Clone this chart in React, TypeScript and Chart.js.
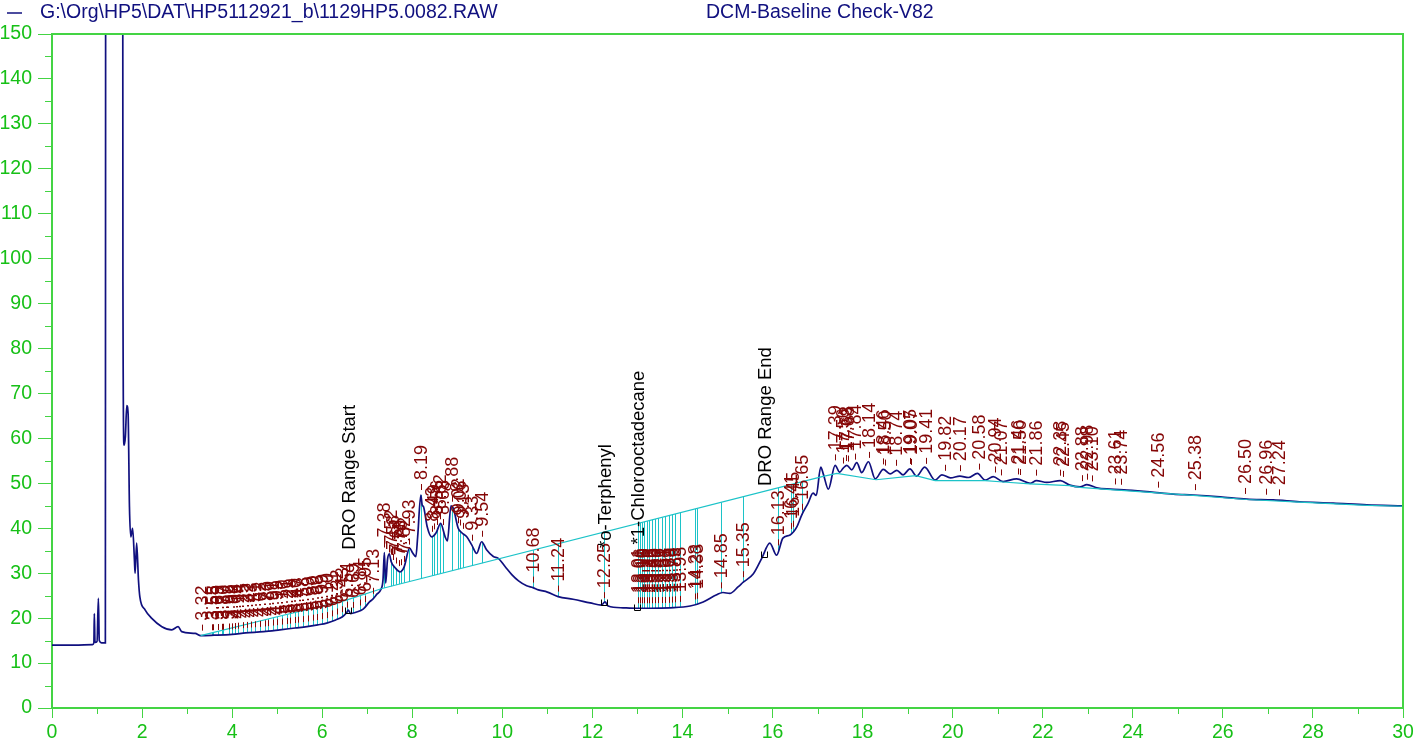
import React, { useEffect, useRef } from 'react';
import { Chart, registerables } from 'chart.js';

Chart.register(...registerables);

// ---- chromatogram signal (retention time in minutes, response) ----
const signalTimes = [
  0, 0.5, 0.9, 0.93, 0.94, 0.955, 1.0, 1.03, 1.05, 1.1, 1.185, 1.2, 1.38, 1.56, 1.575, 1.6,
  1.63, 1.66, 1.69, 1.72, 1.75, 1.79, 1.83, 1.845, 1.88, 1.92, 1.95, 2.07, 2.21, 2.44, 2.66,
  2.8, 2.88, 3.18, 3.3, 3.6, 4.0, 4.3, 4.7, 5.06, 5.4, 5.66, 5.9, 6.1, 6.3, 6.45, 6.54, 6.58,
  6.63, 6.75, 6.91, 7.05, 7.13, 7.22, 7.3, 7.35, 7.38, 7.41, 7.45, 7.49, 7.53, 7.62, 7.73,
  7.82, 7.94, 8.01, 8.08, 8.12, 8.19, 8.22, 8.25, 8.33, 8.43, 8.53, 8.63, 8.73, 8.78, 8.86,
  8.91, 9.02, 9.1, 9.21, 9.32, 9.43, 9.54, 9.65, 9.8, 9.91, 10.06, 10.21, 10.36, 10.54, 10.68,
  10.8, 11.0, 11.24, 11.57, 11.95, 12.2, 12.28, 12.35, 12.68, 13.0, 13.3, 13.72, 14.17, 14.46,
  14.76, 14.9, 15.05, 15.24, 15.35, 15.57, 15.76, 15.94, 16.09, 16.23, 16.39, 16.54, 16.65,
  16.79, 16.9, 16.97, 17.07, 17.13, 17.24, 17.39, 17.49, 17.57, 17.65, 17.76, 17.87, 17.98,
  18.13, 18.28, 18.46, 18.61, 18.76, 18.9, 19.05, 19.2, 19.38, 19.61, 19.76, 19.95, 20.16,
  20.35, 20.55, 20.72, 20.9, 21.12, 21.42, 21.72, 21.86, 22.09, 22.39, 22.6, 22.83, 22.98,
  23.2, 23.5, 23.87, 24.38, 24.9, 25.34, 25.94, 26.53, 27.12, 27.7, 28.45, 29.2, 30.0,
];
const signalValues = [
  14.0, 14.0, 14.1, 14.5, 21.0, 14.6, 14.8, 24.4, 15.0, 14.5, 14.5, 400, 1200, 400, 95, 58.5,
  60.5, 67.3, 65.5, 44.8, 38.1, 40.0, 33.0, 30.0, 36.7, 28.5, 24.8, 21.8, 20.0, 18.1, 17.4,
  18.1, 17.0, 16.6, 16.1, 16.2, 16.4, 16.7, 17.0, 17.4, 17.8, 18.1, 18.5, 18.9, 19.6, 20.3,
  21.2, 21.8, 21.0, 21.3, 22.0, 23.6, 24.3, 25.4, 26.3, 28.5, 34.6, 27.8, 33.0, 34.3, 32.6,
  31.2, 30.3, 31.4, 35.6, 34.5, 33.7, 38.1, 47.4, 45.2, 44.8, 40.4, 38.1, 39.0, 41.1, 38.1,
  37.2, 45.0, 44.5, 40.0, 39.0, 38.1, 36.3, 34.4, 37.0, 35.2, 33.7, 33.3, 31.5, 29.7, 28.3,
  27.2, 26.8, 26.3, 25.8, 24.8, 24.2, 23.4, 22.9, 23.6, 22.7, 22.3, 22.2, 22.2, 22.3, 22.7,
  23.6, 25.2, 25.7, 25.5, 27.0, 28.0, 29.8, 33.3, 36.7, 34.0, 37.8, 38.5, 40.3, 43.0, 45.6,
  47.8, 47.3, 53.6, 52.0, 48.7, 54.0, 52.5, 53.4, 54.0, 53.0, 54.6, 52.4, 54.8, 51.0, 53.1,
  52.1, 52.9, 51.9, 53.2, 51.6, 53.6, 50.7, 51.9, 51.2, 51.6, 51.3, 52.2, 50.7, 51.5, 50.4,
  51.0, 50.0, 50.6, 50.2, 50.6, 49.6, 49.2, 49.7, 49.0, 48.7, 48.5, 48.1, 47.6, 47.4, 47.0,
  46.5, 46.3, 45.9, 45.6, 45.2, 45.0,
];

// ---- integration baseline ----
const baselineTimes = [
  3.3, 5.0, 6.5, 7.33, 17.1, 17.43, 18.3, 19.18, 19.61, 20.72, 21.12, 21.72, 22.6, 22.83,
  23.5, 24.38, 25.34, 26.53, 27.7, 29.2, 30.0,
];
const baselineValues = [
  16.1, 20.3, 23.9, 26.6, 51.5, 52.2, 50.8, 51.7, 50.6, 50.6, 50.3, 49.9, 49.5, 49.1, 48.6,
  48.0, 47.3, 46.4, 45.8, 45.1, 44.9,
];

// ---- integrated peaks (retention times, also used as labels) ----
const peakTimes = [
  3.32, 3.55, 3.58, 3.69, 3.77, 3.8, 3.92, 3.99, 4.06, 4.14, 4.25, 4.32, 4.43, 4.51, 4.62,
  4.73, 4.8, 4.91, 4.99, 5.1, 5.21, 5.29, 5.4, 5.47, 5.58, 5.69, 5.8, 5.88, 5.99, 6.1, 6.21,
  6.32, 6.43, 6.54, 6.69, 6.84, 6.95, 7.13,
  7.38, 7.52, 7.58, 7.64, 7.71, 7.76, 7.82, 7.93, 8.19, 8.43, 8.49, 8.56, 8.62, 8.68, 8.88,
  9.02, 9.06, 9.13, 9.33, 9.54,
  10.68, 11.24, 12.25, 13.01, 13.06, 13.1, 13.15, 13.21, 13.26, 13.33, 13.39, 13.46, 13.54,
  13.61, 13.69, 13.76, 13.83, 13.95, 14.28, 14.33, 14.85, 15.35, 16.13, 16.41, 16.45, 16.65,
  17.39, 17.56, 17.63, 17.68, 17.84, 18.14, 18.46, 18.5, 18.74, 19.05, 19.07, 19.41, 19.82,
  20.17, 20.58, 20.94, 21.07, 21.46, 21.5, 21.86, 22.38, 22.45, 22.88, 22.98, 23.1, 23.61,
  23.74, 24.56, 25.38, 26.5, 26.96, 27.24,
];
const integrationEnd = 17.1;

// ---- named compounds / range markers ----
const compoundNames = ['DRO Range Start', '*o-Terphenyl', '*1-Chlorooctadecane', 'DRO Range End'];
const compoundTimes = [6.57, 12.25, 13.0, 15.8];
const compoundLabelLevels = [35.2, 35.6, 36.4, 49.4];

// ---- axes ----
const xMinorTicks = [1, 3, 5, 7, 9, 11, 13, 15, 17, 19, 21, 23, 25, 27, 29];
const yMinorTicks = [5, 15, 25, 35, 45, 55, 65, 75, 85, 95, 105, 115, 125, 135, 145];
const fileLabel = 'G:\\Org\\HP5\\DAT\\HP5112921_b\\1129HP5.0082.RAW';
const methodLabel = 'DCM-Baseline Check-V82';

const NAVY = '#10107f';
const CYAN = '#1cc3c8';
const RED = '#850606';
const GREEN_LINE = '#44d444';
const GREEN_TEXT = '#17c017';
const FONT = '"Liberation Sans", Arial, Helvetica, sans-serif';

function valueAt(times: number[], values: number[], t: number): number {
  for (let i = 1; i < times.length; i++) {
    if (t <= times[i]) {
      const f = (t - times[i - 1]) / (times[i] - times[i - 1]);
      return values[i - 1] + f * (values[i] - values[i - 1]);
    }
  }
  return values[values.length - 1];
}

const chromPlugin = {
  id: 'chromDecor',
  beforeDatasetsDraw(chart: any) {
    const { ctx, scales } = chart;
    const xs = scales.x;
    const ys = scales.y;
    ctx.save();
    ctx.strokeStyle = CYAN;
    ctx.lineWidth = 1;
    peakTimes.forEach((t) => {
      if (t > integrationEnd || t < baselineTimes[0]) return;
      const px = Math.round(xs.getPixelForValue(t)) + 0.5;
      const yc = ys.getPixelForValue(valueAt(signalTimes, signalValues, t));
      const yb = ys.getPixelForValue(valueAt(baselineTimes, baselineValues, t));
      ctx.beginPath();
      ctx.moveTo(px, yc);
      ctx.lineTo(px, yb);
      ctx.stroke();
    });
    ctx.restore();
  },
  afterDatasetsDraw(chart: any) {
    const { ctx, scales } = chart;
    const xs = scales.x;
    const ys = scales.y;
    ctx.save();
    ctx.font = `18px ${FONT}`;
    ctx.textAlign = 'left';
    ctx.textBaseline = 'middle';
    peakTimes.forEach((t) => {
      const px = Math.round(xs.getPixelForValue(t)) + 0.5;
      const yc = ys.getPixelForValue(valueAt(signalTimes, signalValues, t));
      ctx.strokeStyle = RED;
      ctx.lineWidth = 1;
      ctx.beginPath();
      ctx.moveTo(px, yc - 5);
      ctx.lineTo(px, yc - 11);
      ctx.stroke();
      ctx.save();
      ctx.translate(px + 1, yc - 15);
      ctx.rotate(-Math.PI / 2);
      ctx.fillStyle = RED;
      ctx.fillText(t.toFixed(2), 0, 0);
      ctx.restore();
    });
    ctx.font = `18.5px ${FONT}`;
    compoundNames.forEach((name, i) => {
      const t = compoundTimes[i];
      const px = Math.round(xs.getPixelForValue(t)) + 0.5;
      const yc = Math.round(ys.getPixelForValue(valueAt(signalTimes, signalValues, t))) + 0.5;
      ctx.strokeStyle = '#000';
      ctx.lineWidth = 1;
      ctx.beginPath();
      ctx.moveTo(px - 3, yc - 4);
      ctx.lineTo(px - 3, yc + 2);
      ctx.lineTo(px + 3, yc + 2);
      ctx.lineTo(px + 3, yc - 4);
      ctx.stroke();
      ctx.save();
      ctx.translate(px + 1, ys.getPixelForValue(compoundLabelLevels[i]));
      ctx.rotate(-Math.PI / 2);
      ctx.fillStyle = '#000';
      ctx.fillText(name, 0, 0);
      ctx.restore();
    });
    ctx.restore();
  },
  afterDraw(chart: any) {
    const { ctx, scales, chartArea } = chart;
    const xs = scales.x;
    const ys = scales.y;
    ctx.save();
    ctx.strokeStyle = GREEN_LINE;
    ctx.lineWidth = 2;
    ctx.beginPath();
    ctx.moveTo(chartArea.left, chartArea.top);
    ctx.lineTo(chartArea.right, chartArea.top);
    ctx.lineTo(chartArea.right, chartArea.bottom);
    ctx.stroke();
    ctx.lineWidth = 1;
    xMinorTicks.forEach((v) => {
      const px = Math.round(xs.getPixelForValue(v)) + 0.5;
      ctx.beginPath();
      ctx.moveTo(px, chartArea.bottom);
      ctx.lineTo(px, chartArea.bottom + 6);
      ctx.stroke();
    });
    yMinorTicks.forEach((v) => {
      const py = Math.round(ys.getPixelForValue(v)) + 0.5;
      ctx.beginPath();
      ctx.moveTo(chartArea.left, py);
      ctx.lineTo(chartArea.left - 7, py);
      ctx.stroke();
    });
    ctx.strokeStyle = NAVY;
    ctx.lineWidth = 1.5;
    ctx.beginPath();
    ctx.moveTo(7, 13);
    ctx.lineTo(22, 13);
    ctx.stroke();
    ctx.fillStyle = NAVY;
    ctx.font = `19.5px ${FONT}`;
    ctx.textAlign = 'left';
    ctx.textBaseline = 'middle';
    ctx.fillText(fileLabel, 40, 13);
    ctx.fillText(methodLabel, 706, 13);
    ctx.restore();
  },
};

export default function App() {
  const canvasRef = useRef<HTMLCanvasElement | null>(null);

  useEffect(() => {
    document.body.style.margin = '0';
    document.body.style.overflow = 'hidden';
    const canvas = canvasRef.current;
    if (!canvas) return;
    const signal = signalTimes.map((t, i) => ({ x: t, y: signalValues[i] }));
    const baseline = baselineTimes.map((t, i) => ({ x: t, y: baselineValues[i] }));
    const chart = new Chart(canvas, {
      type: 'line',
      data: {
        datasets: [
          {
            label: 'baseline',
            data: baseline,
            borderColor: CYAN,
            borderWidth: 1.2,
            pointRadius: 0,
            tension: 0,
            order: 0,
          },
          {
            label: fileLabel,
            data: signal,
            borderColor: NAVY,
            borderWidth: 1.7,
            pointRadius: 0,
            cubicInterpolationMode: 'monotone',
            order: 1,
          },
        ],
      },
      options: {
        animation: false,
        responsive: false,
        maintainAspectRatio: false,
        events: [],
        layout: { padding: { top: 34, right: 21, left: 0, bottom: 0 } },
        plugins: {
          legend: { display: false },
          tooltip: { enabled: false },
          title: { display: false },
        },
        scales: {
          x: {
            type: 'linear',
            min: 0,
            max: 30,
            ticks: {
              stepSize: 2,
              autoSkip: false,
              maxRotation: 0,
              color: GREEN_TEXT,
              padding: 3,
              font: { family: FONT, size: 19.5 },
            },
            grid: { drawOnChartArea: false, tickLength: 10, color: GREEN_LINE, lineWidth: 1 },
            border: { color: GREEN_LINE, width: 2 },
            afterFit: (s: any) => {
              s.height = 39;
            },
          },
          y: {
            type: 'linear',
            min: 0,
            max: 150,
            ticks: {
              stepSize: 10,
              autoSkip: false,
              color: GREEN_TEXT,
              padding: 6,
              font: { family: FONT, size: 19.5 },
            },
            grid: { drawOnChartArea: false, tickLength: 14, color: GREEN_LINE, lineWidth: 1 },
            border: { color: GREEN_LINE, width: 2 },
            afterFit: (s: any) => {
              s.width = 52;
            },
          },
        },
      },
      plugins: [chromPlugin],
    });
    return () => chart.destroy();
  }, []);

  return (
    <div style={{ width: 1424, height: 747, background: '#fff' }}>
      <canvas ref={canvasRef} width={1424} height={747} style={{ display: 'block' }} />
    </div>
  );
}
